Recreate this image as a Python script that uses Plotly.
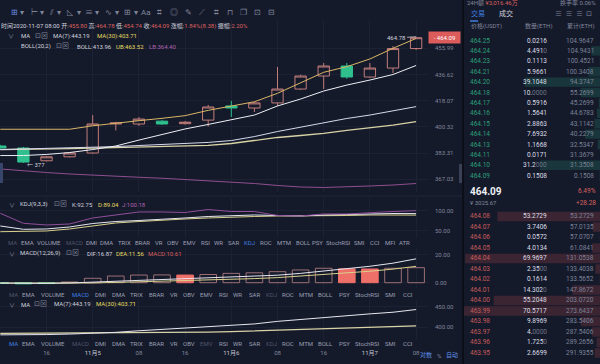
import math
import plotly.graph_objects as go

# ---------------- data ----------------
times = ['2020-11-04 08:00', '2020-11-04 12:00', '2020-11-04 16:00', '2020-11-04 20:00',
         '2020-11-05 00:00', '2020-11-05 04:00', '2020-11-05 08:00', '2020-11-05 12:00',
         '2020-11-05 16:00', '2020-11-05 20:00', '2020-11-06 00:00', '2020-11-06 04:00',
         '2020-11-06 08:00', '2020-11-06 12:00', '2020-11-06 16:00', '2020-11-06 20:00',
         '2020-11-07 00:00', '2020-11-07 04:00', '2020-11-07 08:00']
opens = [387.8, 386.5, 378.4, 380.9, 383.3, 402.2, 402.2, 404.1, 402.4, 404.8,
         414.4, 413.0, 416.5, 426.2, 435.5, 442.8, 434.8, 441.3, 455.80]
highs = [388.5, 387.2, 381.5, 383.8, 408.2, 403.6, 406.9, 405.0, 404.2, 415.1,
         417.9, 417.2, 442.1, 436.4, 445.0, 445.0, 445.0, 457.7, 464.78]
lows = [386.0, 377.0, 378.0, 380.5, 382.8, 397.9, 400.9, 401.5, 401.8, 400.5,
        406.9, 410.3, 414.4, 425.6, 426.2, 433.5, 434.2, 437.7, 454.74]
closes = [386.5, 377.6, 380.9, 383.3, 402.2, 402.9, 405.5, 402.2, 403.4, 413.7,
          413.0, 416.5, 426.2, 435.5, 442.8, 434.8, 441.3, 455.8, 464.09]

ma7 = [381.7, 381.7, 382.4, 383.6, 385.5, 387.8, 391.6, 395.2, 398.9, 401.9,
       405.2, 408.2, 414.4, 419.2, 424.8, 429.0, 432.6, 436.6, 443.19]
ma30 = [385.5, 385.6, 385.9, 386.1, 386.4, 386.7, 387.0, 387.4, 387.8, 388.2,
        389.4, 391.3, 393.3, 394.6, 396.0, 397.9, 399.5, 401.5, 403.71]
boll_mid = [385.5, 385.9, 386.2, 386.5, 386.8, 387.4, 388.1, 388.8, 389.4, 390.1,
            391.3, 393.9, 397.2, 400.2, 402.9, 405.9, 408.2, 410.9, 413.96]
boll_ub = [398.7, 398.7, 398.7, 398.7, 401.0, 402.9, 404.4, 406.0, 407.8, 411.4,
           414.4, 417.3, 423.2, 430.7, 438.2, 442.3, 448.0, 455.99, 463.52]
boll_lb = [373.3, 372.0, 371.1, 370.2, 369.4, 368.8, 368.2, 367.6, 366.9, 366.2,
           365.3, 364.4, 363.2, 362.3, 362.0, 362.3, 362.9, 363.5, 364.40]

kdj_k = [61.8, 53.5, 54.3, 59.3, 68.0, 73.0, 75.5, 78.0, 81.8, 85.5,
         88.0, 89.3, 88.0, 86.8, 89.3, 90.5, 93.0, 93.0, 92.75]
kdj_d = [47.5, 47.5, 49.3, 54.3, 61.8, 69.3, 73.0, 76.8, 79.3, 81.8,
         84.3, 85.5, 86.8, 86.8, 86.8, 88.0, 89.3, 89.3, 89.04]
kdj_j = [93.5, 68.5, 64.3, 66.8, 81.8, 89.3, 96.8, 96.8, 95.5, 103.0,
         98.0, 98.0, 88.0, 86.8, 91.8, 91.8, 95.5, 98.0, 100.18]

macd_dif = [-0.3, -0.5, -0.5, -0.2, 0.4, 1.0, 1.5, 2.0, 2.4, 3.0,
            3.6, 4.4, 5.3, 6.6, 8.2, 9.8, 11.6, 13.8, 16.87]
macd_dea = [-0.2, -0.3, -0.4, -0.4, -0.2, 0.2, 0.6, 1.0, 1.4, 1.8,
            2.3, 2.9, 3.6, 4.6, 5.6, 6.8, 8.1, 9.6, 11.56]
macd_hist = [-0.4, -0.8, -0.6, 0.5, 3.1, 4.7, 5.4, 5.5, 5.4, 5.8,
             6.6, 7.0, 7.8, 9.0, 10.2, 9.8, 9.7, 10.2, 10.61]

price_ticks = [367.03, 383.31, 400.32, 418.07, 436.62, 455.99]
kdj_ticks = [50, 100]
macd_ticks = [0, 20]
ma_ticks = [400, 450]
time_ticks = ['2020-11-04 16:00', '2020-11-05 00:00', '2020-11-05 08:00', '2020-11-05 16:00',
              '2020-11-06 00:00', '2020-11-06 08:00', '2020-11-06 16:00', '2020-11-07 00:00',
              '2020-11-07 08:00']
time_tick_labels = ['16', '11月5', '08', '16', '11月6', '08', '16', '11月7', '08']

ask_prices = ['464.25', '464.24', '464.23', '464.21', '464.20', '464.18', '464.17',
              '464.16', '464.15', '464.14', '464.13', '464.11', '464.10', '464.09']
ask_amounts = [0.0216, 4.4910, 0.1113, 5.9661, 39.1048, 10.0000, 0.5916,
               1.5641, 2.8863, 7.6932, 1.1668, 0.0171, 31.2000, 0.1508]
ask_totals = [104.9647, 104.9431, 100.4521, 100.3408, 94.3747, 55.2699, 45.2699,
              44.6783, 43.1142, 40.2279, 32.5347, 31.3679, 31.3508, 0.1508]
bid_prices = ['464.08', '464.07', '464.06', '464.05', '464.04', '464.03', '464.02',
              '464.01', '464.00', '463.99', '463.98', '463.97', '463.96', '463.95']
bid_amounts = [53.2729, 3.7406, 0.0572, 4.0134, 69.9697, 2.3500, 0.1614,
               14.3020, 55.2048, 70.5717, 9.8969, 4.0000, 1.7250, 2.6699]
bid_totals = [53.2729, 57.0135, 57.0707, 61.0841, 131.0538, 133.4038, 133.5652,
              147.8672, 203.0720, 273.6437, 283.5406, 287.5406, 289.2656, 291.9355]

tabs_long = ['MA', 'EMA', 'VOLUME', 'MACD', 'DMI', 'DMA', 'TRIX', 'BRAR', 'VR', 'OBV', 'EMV',
             'RSI', 'WR', 'SAR', 'KDJ', 'ROC', 'MTM', 'BOLL', 'PSY', 'StochRSI', 'SMI', 'CCI',
             'MFI', 'ATR']
tabs_short = tabs_long[:22]

# ---------------- style / layout ----------------
W, H = 600, 364
BG = '#151a2b'
GRID = '#1c2133'
TXT = '#cfd2dc'
GRAY = '#80869a'
DIM = '#4f5569'
RED = '#d9605d'
UPC = '#c27d7a'
DNC = '#2fc08e'
YEL = '#e3da62'
PUR = '#b062b0'
BLUE = '#3f7fe0'
FONT = 'Roboto, Noto Sans CJK SC, sans-serif'


def px(x):
    return x / W


def py(y):
    return 1 - y / H


XR = ['2020-11-04 07:56:53', '2020-11-07 10:03:36']
XD = [0, px(428)]

fig = go.Figure()

# main candles + overlays
fig.add_trace(go.Candlestick(
    x=times, open=opens, high=highs, low=lows, close=closes,
    increasing=dict(line=dict(color=UPC, width=1), fillcolor='rgba(0,0,0,0)'),
    decreasing=dict(line=dict(color=DNC, width=1), fillcolor=DNC),
    whiskerwidth=0, hoverinfo='skip', xaxis='x', yaxis='y'))
for series, col, wd in [(boll_lb, '#8e4f8e', 1.0), (ma30, '#d8d3a6', 1.3),
                        (boll_mid, '#d6d8ec', 1.0), (ma7, '#eeeef4', 1.0),
                        (boll_ub, '#d9b565', 1.0)]:
    fig.add_trace(go.Scatter(x=times, y=series, mode='lines', line=dict(color=col, width=wd),
                             hoverinfo='skip', xaxis='x', yaxis='y'))

# KDJ
for series, col in [(kdj_d, '#d9d08a'), (kdj_k, '#e6e6ee'), (kdj_j, '#8f4f9a')]:
    fig.add_trace(go.Scatter(x=times, y=series, mode='lines', line=dict(color=col, width=1),
                             hoverinfo='skip', xaxis='x2', yaxis='y2'))

# MACD
fills, outlines = [], []
for i, v in enumerate(macd_hist):
    prev = macd_hist[i - 1] if i else v
    if v < 0:
        fills.append(DNC); outlines.append(DNC)
    elif v < prev:
        fills.append('#ef6f69'); outlines.append('#ef6f69')
    else:
        fills.append('rgba(0,0,0,0)'); outlines.append('#9c6f74')
fig.add_trace(go.Bar(x=times, y=macd_hist, width=0.72 * 4 * 3600 * 1000,
                     marker=dict(color=fills, line=dict(color=outlines, width=1)),
                     hoverinfo='skip', xaxis='x3', yaxis='y3'))
for series, col in [(macd_dea, '#d9d08a'), (macd_dif, '#e6e6ee')]:
    fig.add_trace(go.Scatter(x=times, y=series, mode='lines', line=dict(color=col, width=1),
                             hoverinfo='skip', xaxis='x3', yaxis='y3'))

# MA panel
for series, col, wd in [(ma30, '#d8d3a6', 1.3), (ma7, '#e6e6ee', 1.0)]:
    fig.add_trace(go.Scatter(x=times, y=series, mode='lines', line=dict(color=col, width=wd),
                             hoverinfo='skip', xaxis='x4', yaxis='y4'))

# order book depth bars
rows = list(range(len(ask_prices)))
fig.add_trace(go.Bar(x=ask_amounts, y=rows, orientation='h', width=0.9,
                     marker=dict(color='rgba(40,170,125,0.20)', line=dict(width=0)),
                     hoverinfo='skip', xaxis='x5', yaxis='y5'))
fig.add_trace(go.Bar(x=bid_amounts, y=list(range(len(bid_prices))), orientation='h', width=0.9,
                     marker=dict(color='rgba(215,85,85,0.20)', line=dict(width=0)),
                     hoverinfo='skip', xaxis='x6', yaxis='y6'))

tickfont = dict(family=FONT, size=6, color=GRAY)


def xax(anchor, show=False):
    d = dict(domain=XD, range=XR, type='date', anchor=anchor, showgrid=True, gridcolor=GRID,
             gridwidth=1, zeroline=False, showline=False, ticks='', tickvals=time_ticks,
             ticktext=time_tick_labels, showticklabels=show, tickfont=tickfont,
             fixedrange=True)
    return d


def yax(anchor, dom, rng, tv, tt, typ='linear'):
    return dict(domain=dom, range=rng, type=typ, anchor=anchor, side='right',
                tickvals=tv, ticktext=tt, showgrid=True, gridcolor=GRID, zeroline=False,
                showline=False, ticks='', tickfont=tickfont, ticklabelstandoff=6,
                fixedrange=True)


xa1 = xax('y'); xa1['rangeslider'] = dict(visible=False)
xa4 = xax('y4', True); xa4['ticklabelstandoff'] = 9
xa4['ticktext'] = [('<span style="color:#c5c8d2">%s</span>' % t) if '月' in t else t
                   for t in time_tick_labels]

layout = dict(
    width=W, height=H, margin=dict(l=0, r=0, t=0, b=0),
    paper_bgcolor=BG, plot_bgcolor=BG, showlegend=False,
    font=dict(family=FONT, size=6, color=GRAY),
    xaxis=xa1,
    yaxis=yax('x', [py(192), py(20)], [2.55546, 2.67934], price_ticks,
              ['%.2f' % v for v in price_ticks], 'log'),
    xaxis2=xax('y2'),
    yaxis2=yax('x2', [py(238), py(198)], [31.75, 131.75], kdj_ticks,
               ['%.2f' % v for v in kdj_ticks]),
    xaxis3=xax('y3'),
    yaxis3=yax('x3', [py(289), py(248)], [-4.45, 24.52], macd_ticks,
               ['%.2f' % v for v in macd_ticks]),
    xaxis4=xa4,
    yaxis4=yax('x4', [py(339), py(300)], [371.6, 466.3], ma_ticks,
               ['%.2f' % v for v in ma_ticks]),
    xaxis5=dict(domain=[px(464), 1], range=[70.6, 0], anchor='y5', visible=False, fixedrange=True),
    yaxis5=dict(domain=[py(180.9), py(35.3)], range=[13.5, -0.5], anchor='x5', visible=False,
                fixedrange=True),
    xaxis6=dict(domain=[px(464), 1], range=[70.6, 0], anchor='y6', visible=False, fixedrange=True),
    yaxis6=dict(domain=[py(358.2), py(211.2)], range=[13.5, -0.5], anchor='x6', visible=False,
                fixedrange=True),
)
fig.update_layout(**layout)

ann = []


def T(x, y, text, color=TXT, size=6, xa='left', ya='middle', **kw):
    ann.append(dict(x=px(x), y=py(y), xref='paper', yref='paper', text=text, showarrow=False,
                    xanchor=xa, yanchor=ya, font=dict(color=color, size=size, family=FONT),
                    borderpad=0, **kw))


def S(txt, col):
    return '<span style="color:%s">%s</span>' % (col, txt)


# toolbar
tools = [(14.5, '⊞', '#6a8be0'), (22, '▾', GRAY), (34, '⊢', GRAY), (42, '▾', GRAY),
         (51.5, '⫽', GRAY), (59, '▾', GRAY), (70, '◺', GRAY), (79, '▾', GRAY),
         (89, '≡', GRAY), (97, '▾', GRAY), (108.5, '∿', GRAY), (117, '▾', GRAY),
         (127.5, '⊞', GRAY), (136, '▾', GRAY), (146, 'Aa', GRAY), (159.5, '⌗', GRAY),
         (174, '◎', GRAY), (188, '✎', GRAY), (201.5, '⟋', GRAY), (216, '⌗', GRAY),
         (229.5, '⊓', GRAY), (243.5, '❐', GRAY), (257.5, '⊡', GRAY), (271, '⊟', GRAY)]
for x, g, c in tools:
    T(x, 13, g, c, 8, 'center')

# info lines
info = ('时间2020-11-07 08:00 开:' + S('455.80', RED) + ' 高:' + S('464.78', RED) +
        ' 低:' + S('454.74', RED) + ' 收:' + S('464.09', RED) + ' 涨幅:' +
        S('1.84%(8.38)', RED) + ' 振幅:' + S('2.20%', RED))
T(0, 26.5, info, TXT)
T(11, 36, '∨', GRAY, 6, 'center')
T(20, 36, 'MA', TXT)
T(34, 36, '⊡⊠', GRAY, 7)
T(52, 36, 'MA(7):443.19', TXT)
T(96, 36, 'MA(30):403.71', YEL)
T(20, 46, 'BOLL(20,2)', TXT)
T(55, 46, '⊡⊠', GRAY, 7)
T(76, 46, 'BOLL:413.96', TXT)
T(115, 46, 'UB:463.52', YEL)
T(148, 46, 'LB:364.40', PUR)

# price markers
ann.append(dict(x=times[-1], y=math.log10(highs[-1]), xref='x', yref='y', text='464.78',
                showarrow=True, ax=-20, ay=1, arrowhead=0, arrowwidth=0.8, arrowcolor='#d0d0d8',
                font=dict(color=TXT, size=6, family=FONT), xanchor='center'))
ann.append(dict(x=times[1], y=math.log10(lows[1]), xref='x', yref='y', text='← 377',
                showarrow=False, xanchor='left', xshift=2, yshift=-1,
                font=dict(color=TXT, size=6, family=FONT)))
ann.append(dict(x=px(444.5), y=math.log10(closes[-1]), xref='paper', yref='y',
                text='- ' + '%.2f' % closes[-1], showarrow=False, xanchor='center',
                bgcolor='#dc5b5b', borderpad=2, width=27,
                font=dict(color='#ffffff', size=6, family=FONT)))

# KDJ / MACD / MA headers
T(12, 204, '∨', GRAY, 6, 'center')
T(19, 204, 'KDJ(9,3,3)', TXT)
T(53, 204, '⊡⊠', GRAY, 7)
T(71, 204, 'K:92.75', TXT)
T(97, 204, 'D:89.04', YEL)
T(121, 204, 'J:100.18', PUR)
T(12, 253, '∨', GRAY, 6, 'center')
T(19, 253, 'MACD(12,26,9)', TXT)
T(65, 253, '⊡⊠', GRAY, 7)
T(86, 253, 'DIF:16.87', TXT)
T(115, 253, 'DEA:11.56', YEL)
T(147, 253, 'MACD:10.61', RED)
T(12, 304, '∨', GRAY, 6, 'center')
T(20, 304, 'MA', TXT)
T(33, 304, '⊡⊠', GRAY, 7)
T(53, 304, 'MA(7):443.19', TXT)
T(95, 304, 'MA(30):403.71', YEL)

# indicator tab rows
xs_long = [12.5, 27, 49, 74, 91, 106.5, 124, 142.5, 158.5, 172.5, 189.5, 205.5, 218.5,
           233.5, 249.5, 266, 283.5, 303, 317, 338.5, 359, 374.5, 391, 404]
xs_short = [13, 28.5, 52.5, 80.5, 100.5, 118.5, 136.5, 156.5, 173.5, 189, 206.5, 223,
            237.5, 254, 271, 287.5, 305.5, 325, 344, 367, 390, 407.5]
for names, xs, yy, blue, dim in [
        (tabs_long, xs_long, 243, 'KDJ', ('MA', 'MACD')),
        (tabs_short, xs_short, 294, 'MACD', ('MA', 'KDJ')),
        (tabs_short, xs_short, 343, 'MA', ('MACD', 'EMV', 'KDJ'))]:
    for n, x in zip(names, xs):
        c = BLUE if n == blue else (DIM if n in dim else '#9a9fb2')
        T(x, yy, n, c, 6, 'center')

# bottom right controls
T(426, 355, '对数', '#5d8fe6', 6, 'center')
T(439, 355, '%', GRAY, 6, 'center')
T(452, 355, '自动', '#5d8fe6', 6, 'center')

# order book header
T(466, 3.5, '24H额 ' + S('¥3,016.46万', RED), GRAY, 6)
T(597, 3.5, '换手率 0.06%', GRAY, 6, 'right')
T(470, 14, '交易', BLUE, 7)
T(498, 14, '成交', TXT, 7)
T(593, 14, '≡  ≡  ≡  ⊡', GRAY, 7, 'right')
T(470, 26, '价格(USDT)', GRAY)
T(553, 26, '数量(ETH)', GRAY, 6, 'right')
T(595, 26, '累计(ETH)', GRAY, 6, 'right')


def amt(a):
    s = '%.4f' % a
    core = s.rstrip('0')
    tail = s[len(core):]
    return core + (S(tail, '#6f7488') if tail else '')


for yref, prices, amts, tots, pcol in [('y5', ask_prices, ask_amounts, ask_totals, '#2c9f79'),
                                      ('y6', bid_prices, bid_amounts, bid_totals, '#c65a5a')]:
    for k, (p, a, t) in enumerate(zip(prices, amts, tots)):
        for x, txt, col, xa in [(469, p, pcol, 'left'), (548, amt(a), '#dcdee6', 'right'),
                                (595, '%.4f' % t, '#7c8296', 'right')]:
            ann.append(dict(x=px(x), y=k, xref='paper', yref=yref, text=txt, showarrow=False,
                            xanchor=xa, yanchor='middle', borderpad=0,
                            font=dict(color=col, size=6.5, family=FONT)))

T(469, 191, '<b>464.09</b>', '#eef0f5', 10)
T(469, 202.5, '¥ 3025.67', GRAY, 6)
T(597, 191, '6.49%', RED, 6.5, 'right')
T(597, 202.5, '+28.28', RED, 6.5, 'right')

shapes = [
    dict(type='line', xref='paper', yref='paper', x0=px(463), x1=px(463), y0=0, y1=1,
         line=dict(color='#0c0f18', width=2)),
    dict(type='line', xref='paper', yref='paper', x0=0, x1=px(462), y0=py(196), y1=py(196),
         line=dict(color='#20253a', width=1)),
    dict(type='line', xref='paper', yref='paper', x0=px(470), x1=px(478), y0=py(21), y1=py(21),
         line=dict(color=BLUE, width=1.5)),
    dict(type='rect', xref='paper', yref='paper', x0=px(459), x1=px(462), y0=py(183), y1=py(164),
         fillcolor='#3a4055', line=dict(width=0)),
    dict(type='rect', xref='paper', yref='paper', x0=0, x1=px(3), y0=py(183), y1=py(163),
         fillcolor='#38456a', line=dict(width=0)),
]
fig.update_layout(annotations=ann, shapes=shapes)
fig.write_html('out.html', config={'displayModeBar': False, 'staticPlot': True},
               post_script="document.body.style.margin='0';document.body.style.padding='0';"
                           "document.body.style.overflow='hidden';"
                           "document.body.style.background='%s';" % BG)
